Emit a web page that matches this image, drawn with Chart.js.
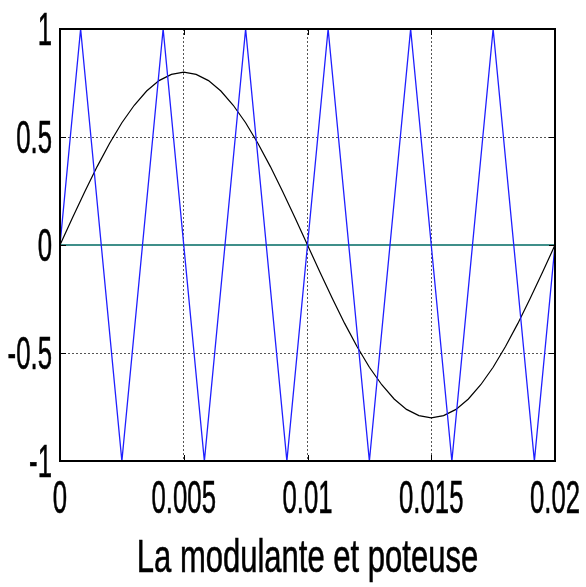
<!DOCTYPE html>
<html>
<head>
<meta charset="utf-8">
<script src="https://cdn.jsdelivr.net/npm/chart.js@4/dist/chart.umd.min.js"></script>
<style>
  html, body { margin: 0; padding: 0; background: #fff; }
  #wrap { width: 586px; height: 587px; }
</style>
</head>
<body>
<div id="wrap"><canvas id="plot" width="586" height="587"></canvas></div>
<script>
// triangle carrier: corner points (300 Hz, +/-1)
const carrierT = [0, 0.000833, 0.0025, 0.004167, 0.005833, 0.0075, 0.009167, 0.010833,
                  0.0125, 0.014167, 0.015833, 0.0175, 0.019167, 0.02];
const carrierV = [0, 1, -1, 1, -1, 1, -1, 1, -1, 1, -1, 1, -1, 0];

// modulating wave, amplitude ~0.8, one period over 0.02 s (read every 0.0005 s)
const sineT = [0, 0.0005, 0.001, 0.0015, 0.002, 0.0025, 0.003, 0.0035, 0.004, 0.0045,
               0.005, 0.0055, 0.006, 0.0065, 0.007, 0.0075, 0.008, 0.0085, 0.009, 0.0095,
               0.01, 0.0105, 0.011, 0.0115, 0.012, 0.0125, 0.013, 0.0135, 0.014, 0.0145,
               0.015, 0.0155, 0.016, 0.0165, 0.017, 0.0175, 0.018, 0.0185, 0.019, 0.0195, 0.02];
const sineV = [0, 0.125, 0.247, 0.363, 0.470, 0.566, 0.647, 0.713, 0.761, 0.790,
               0.80, 0.790, 0.761, 0.713, 0.647, 0.566, 0.470, 0.363, 0.247, 0.125,
               0, -0.125, -0.247, -0.363, -0.470, -0.566, -0.647, -0.713, -0.761, -0.790,
               -0.80, -0.790, -0.761, -0.713, -0.647, -0.566, -0.470, -0.363, -0.247, -0.125, 0];

// zero reference line
const zeroT = [0, 0.02];
const zeroV = [0, 0];

const xTickLabels = ['0', '0.005', '0.01', '0.015', '0.02'];
const yTickLabels = ['-1', '-0.5', '0', '0.5', '1'];
const xTitle = 'La modulante et poteuse';

const pts = (xs, ys) => xs.map((x, i) => ({ x: x, y: ys[i] }));
const FONT = "'Liberation Sans', Arial, sans-serif";
const SQUEEZE = 0.56;   // the original text is very condensed

// write text squeezed horizontally (no narrow font available offline)
function narrowText(c, txt, x, y, align, size, sx) {
    c.save();
    c.font = size + 'px ' + FONT;
    c.textBaseline = 'alphabetic';
    const w = c.measureText(txt).width * sx;
    let left = x;
    if (align === 'center') left = x - w / 2;
    else if (align === 'right') left = x - w;
    c.translate(left, y);
    c.scale(sx, 1);
    c.textAlign = 'left';
    c.fillText(txt, 0, 0);
    c.lineWidth = 0.6;
    c.strokeText(txt, 0, 0);   // a touch heavier, like the original
    c.restore();
}

// box round the plot, inward tick marks and the labels, matlab style
const boxPlugin = {
    id: 'box',
    afterDatasetsDraw(chart) {
        const c = chart.ctx, a = chart.chartArea;
        const xs = chart.scales.x, ys = chart.scales.y;
        c.save();
        c.strokeStyle = '#000';
        c.lineWidth = 2;
        c.strokeRect(a.left, a.top, a.right - a.left, a.bottom - a.top);
        c.lineWidth = 1;
        c.beginPath();
        xs.ticks.forEach(t => {
            const px = Math.round(xs.getPixelForValue(t.value)) + 0.5;
            c.moveTo(px, a.bottom); c.lineTo(px, a.bottom - 6);
            c.moveTo(px, a.top); c.lineTo(px, a.top + 6);
        });
        ys.ticks.forEach(t => {
            const py = Math.round(ys.getPixelForValue(t.value)) + 0.5;
            c.moveTo(a.left, py); c.lineTo(a.left + 6, py);
            c.moveTo(a.right, py); c.lineTo(a.right - 6, py);
        });
        c.stroke();

        c.fillStyle = '#000';
        xs.ticks.forEach((t, i) => {
            narrowText(c, xTickLabels[i], xs.getPixelForValue(t.value), a.bottom + 52, 'center', 46, SQUEEZE);
        });
        ys.ticks.forEach((t, i) => {
            narrowText(c, yTickLabels[i], a.left - 8, ys.getPixelForValue(t.value) + 16, 'right', 46, SQUEEZE);
        });
        narrowText(c, xTitle, (a.left + a.right) / 2, a.bottom + 111, 'center', 47, 0.66);
        c.restore();
    }
};

new Chart(document.getElementById('plot'), {
    type: 'line',
    data: {
        datasets: [
            { data: pts(carrierT, carrierV), borderColor: '#1f1fff', borderWidth: 1.3 },
            { data: pts(sineT, sineV), borderColor: '#000000', borderWidth: 1.2 },
            { data: pts(zeroT, zeroV), borderColor: '#3f8f8a', borderWidth: 2 }
        ]
    },
    options: {
        responsive: false,
        animation: false,
        events: [],
        parsing: false,
        elements: { point: { radius: 0 }, line: { tension: 0 } },
        layout: { padding: { top: 29, right: 31, left: 0, bottom: 0 } },
        plugins: { legend: { display: false }, tooltip: { enabled: false } },
        scales: {
            x: {
                type: 'linear', min: 0, max: 0.02,
                afterFit: s => { s.height = 126; s.paddingLeft = 0; s.paddingRight = 0; },
                grid: { color: '#555', lineWidth: 1, drawTicks: false },
                border: { display: false, dash: [2, 2] },
                ticks: { stepSize: 0.005, display: false }
            },
            y: {
                min: -1, max: 1,
                afterFit: s => { s.width = 60; s.paddingTop = 0; s.paddingBottom = 0; },
                grid: { color: '#555', lineWidth: 1, drawTicks: false },
                border: { display: false, dash: [2, 2] },
                ticks: { stepSize: 0.5, display: false }
            }
        }
    },
    plugins: [boxPlugin]
});
</script>
</body>
</html>
